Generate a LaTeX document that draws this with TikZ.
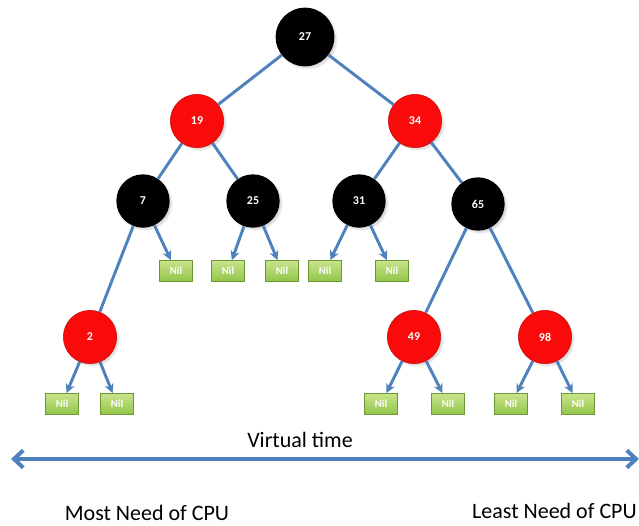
\documentclass[tikz,border=0pt]{standalone}
\usepackage{fontspec}
\setmainfont{Carlito}
\usetikzlibrary{arrows.meta,shadows}

\definecolor{linkblue}{RGB}{79,129,189}
\definecolor{nilgreen}{RGB}{146,196,72}
\definecolor{niltop}{RGB}{200,228,140}
\definecolor{nildraw}{RGB}{110,150,50}
\definecolor{rbred}{RGB}{250,10,10}

\tikzset{
  rbnode/.style={circle, inner sep=0pt, minimum size=40pt, text=white,
    font=\bfseries\small, circular drop shadow={opacity=0.35, shadow scale=1.05}},
  blk/.style={rbnode, fill=black},
  rd/.style={rbnode, fill=rbred, draw=rbred!80!black, thin},
  nil/.style={rectangle, minimum width=25pt, minimum height=16pt, inner sep=0pt,
    top color=niltop, bottom color=nilgreen, draw=nildraw, text=white,
    font=\bfseries\footnotesize},
  link/.style={draw=linkblue, line width=2.2pt},
  tonil/.style={link, -{Stealth[length=7pt,width=7pt]}},
  caption/.style={font=\fontsize{16.5}{20}\selectfont, anchor=base}
}

\begin{document}
\begin{tikzpicture}[x=0.75pt, y=-0.75pt]
  \useasboundingbox (0,0) rectangle (639,525);
  \clip (0,0) rectangle (639,525);

  % tree nodes
  \node[blk, minimum size=44pt] (n27) at (305,37) {27};
  \node[rd] (n19) at (197,121) {19};
  \node[rd] (n34) at (415,121) {34};
  \node[blk] (n7) at (143,201) {7};
  \node[blk] (n25) at (253,201) {25};
  \node[blk] (n31) at (359,201) {31};
  \node[blk] (n65) at (478,204) {65};
  \node[rd] (n2) at (90,337) {2};
  \node[rd] (n49) at (414,337) {49};
  \node[rd] (n98) at (545,337) {98};

  % leaves
  \node[nil] (nilA) at (176,271) {Nil};
  \node[nil] (nilB) at (228,271) {Nil};
  \node[nil] (nilC) at (282,271) {Nil};
  \node[nil] (nilD) at (325,271) {Nil};
  \node[nil] (nilE) at (392,271) {Nil};
  \node[nil] (nilF) at (62,404) {Nil};
  \node[nil] (nilG) at (117,404) {Nil};
  \node[nil] (nilH) at (381,404) {Nil};
  \node[nil] (nilI) at (448,404) {Nil};
  \node[nil] (nilJ) at (511,404) {Nil};
  \node[nil] (nilK) at (578,404) {Nil};

  % links between tree nodes
  \draw[link] (n27) -- (n19);
  \draw[link] (n27) -- (n34);
  \draw[link] (n19) -- (n7);
  \draw[link] (n19) -- (n25);
  \draw[link] (n34) -- (n31);
  \draw[link] (n34) -- (n65);
  \draw[link] (n7) -- (n2);
  \draw[link] (n65) -- (n49);
  \draw[link] (n65) -- (n98);

  % links to the leaves
  \draw[tonil] (n7) -- (nilA);
  \draw[tonil] (n25) -- (nilB);
  \draw[tonil] (n25) -- (nilC);
  \draw[tonil] (n31) -- (nilD);
  \draw[tonil] (n31) -- (nilE);
  \draw[tonil] (n2) -- (nilF);
  \draw[tonil] (n2) -- (nilG);
  \draw[tonil] (n49) -- (nilH);
  \draw[tonil] (n49) -- (nilI);
  \draw[tonil] (n98) -- (nilJ);
  \draw[tonil] (n98) -- (nilK);

  % time axis
  \coordinate (tleft) at (11,459);
  \coordinate (tright) at (639,459);
  \draw[draw=linkblue, line width=3pt, {Straight Barb[length=7pt,width=13pt]}-{Straight Barb[length=7pt,width=13pt]}] (tleft) -- (tright);
  \node[caption] (vtime) at (300,447) {Virtual time};
  \node[caption] (most) at (147,520) {Most Need of CPU};
  \node[caption, anchor=base east, inner xsep=0pt] (least) at (637,518) {Least Need of CPU};
\end{tikzpicture}
\end{document}
